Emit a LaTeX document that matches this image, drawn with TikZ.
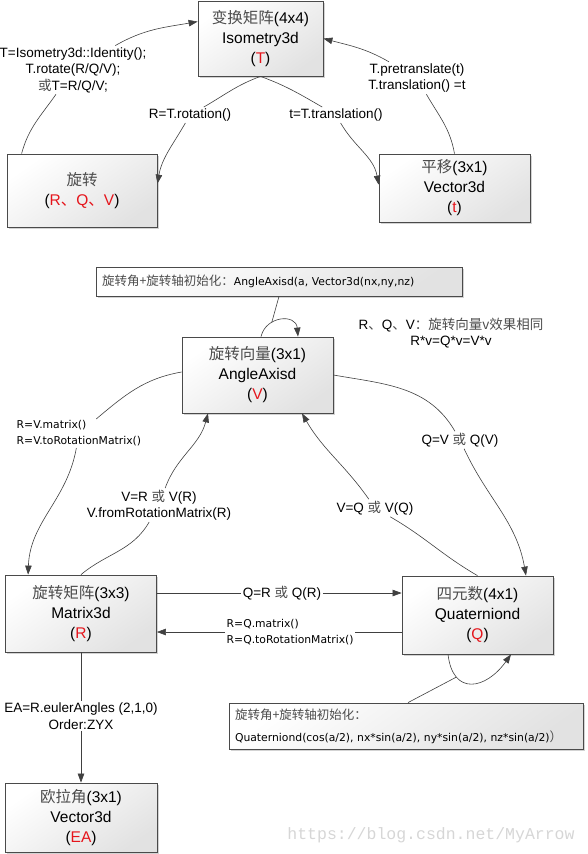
\documentclass[tikz,border=0pt]{standalone}
\usepackage{fontspec}
\usepackage{xcolor}
\usepackage{tikz}
\usetikzlibrary{arrows.meta,shadows}
\setmainfont{Liberation Sans}
\newfontfamily\cjk{Noto Sans CJK SC}
\newfontfamily\verd{DejaVu Sans}
\newfontfamily\wmark{Liberation Mono}
\definecolor{linegray}{HTML}{404040}
\definecolor{boxedge}{HTML}{4A4A4A}
\definecolor{boxlow}{HTML}{E2E2E2}
\definecolor{redtxt}{HTML}{E5141B}
\definecolor{cjkgray}{HTML}{4C4C4C}
\definecolor{wm}{HTML}{D6D6D6}
\newcommand{\zh}[1]{{\cjk\color{cjkgray}#1}}
\newcommand{\zhb}[1]{{\cjk\color{cjkgray}\fontsize{12.5}{22}\selectfont #1}}

\tikzset{
  mbox/.style={draw=boxedge,line width=.8pt,top color=white,bottom color=boxlow,shading angle=35,
    drop shadow={shadow xshift=1.5pt,shadow yshift=-1.5pt,opacity=.35},
    align=center,inner sep=0pt,font=\fontsize{15.5}{20}\selectfont},
  nbox/.style={mbox,align=left,inner xsep=6pt,inner ysep=0pt,font=\verd\fontsize{10.8}{22}\selectfont},
  lbl/.style={align=center,inner sep=1.5pt,font=\fontsize{13.5}{16.5}\selectfont},
  slbl/.style={align=left,inner sep=1.5pt,font=\verd\fontsize{10.8}{16}\selectfont},
  conn/.style={draw=linegray,line width=.6pt},
  arr/.style={conn,-{Triangle[length=9pt,width=6.5pt]}},
}

\begin{document}
\begin{tikzpicture}[x=1pt,y=1pt]
  \useasboundingbox (0,0) rectangle (587,-854);

  \node[mbox,minimum width=125pt,minimum height=75pt] (T) at (260.5,-38.5) {\zh{变换矩阵}(4x4)\\Isometry3d\\(\textcolor{redtxt}{T})};
  \node[mbox,minimum width=150pt,minimum height=73pt] (rot) at (82,-190.5) {\zh{旋转}\\(\textcolor{redtxt}{R{\cjk 、}Q{\cjk 、}V})};
  \node[mbox,minimum width=151pt,minimum height=68pt] (trans) at (454.5,-188) {\zh{平移}(3x1)\\Vector3d\\(\textcolor{redtxt}{t})};

  \node[nbox,text width=354pt,minimum height=29pt] (note1) at (279,-281.5) {\zhb{旋转角+旋转轴初始化：}AngleAxisd(a, Vector3d(nx,ny,nz)};
  \node[mbox,minimum width=151pt,minimum height=76pt] (V) at (257.5,-375) {\zh{旋转向量}(3x1)\\AngleAxisd\\(\textcolor{redtxt}{V})};
  \node[mbox,minimum width=151pt,minimum height=77pt] (R) at (81,-613.5) {\zh{旋转矩阵}(3x3)\\Matrix3d\\(\textcolor{redtxt}{R})};
  \node[mbox,minimum width=151pt,minimum height=78pt] (Q) at (477.5,-615) {\zh{四元数}(4x1)\\Quaterniond\\(\textcolor{redtxt}{Q})};
  \node[nbox,text width=342pt,minimum height=46pt] (note2) at (406,-726) {\zhb{旋转角+旋转轴初始化：}\\Quaterniond(cos(a/2), nx*sin(a/2), ny*sin(a/2), nz*sin(a/2)\zhb{）}};
  \node[mbox,minimum width=152pt,minimum height=69pt] (EA) at (81,-817.5) {\zh{欧拉角}(3x1)\\Vector3d\\(\textcolor{redtxt}{EA})};

  \node[lbl] (lt1) at (73,-70) {T=Isometry3d::Identity();\\T.rotate(R/Q/V);\\\zh{或}T=R/Q/V;};
  \node[lbl] (lt2) at (190,-115) {R=T.rotation()};
  \node[lbl] (lt3) at (336,-115) {t=T.translation()};
  \node[lbl] (lt4) at (417,-78) {T.pretranslate(t)\\T.translation() =t};
  \node[lbl] (vnote) at (451,-333) {R\zh{、}Q\zh{、}V\zh{：旋转向量v效果相同}\\R*v=Q*v=V*v};
  \node[slbl,anchor=west] (lv1) at (15,-433.5) {R=V.matrix()\\R=V.toRotationMatrix()};
  \node[lbl] (lv2) at (159,-505) {V=R \zh{或} V(R)\\V.fromRotationMatrix(R)};
  \node[lbl] (lv3) at (460,-440) {Q=V \zh{或} Q(V)};
  \node[lbl] (lv4) at (375,-508) {V=Q \zh{或} V(Q)};
  \node[lbl] (lr1) at (282,-593) {Q=R \zh{或} Q(R)};
  \node[slbl,anchor=west] (lq1) at (225,-632) {R=Q.matrix()\\R=Q.toRotationMatrix()};
  \node[lbl] (le1) at (81,-716) {EA=R.eulerAngles (2,1,0)\\Order:ZYX};
  \node[font=\wmark\fontsize{16.5}{18}\selectfont,text=wm] (wmk) at (431,-835) {https://blog.csdn.net/MyArrow};

  \draw[arr] ([xshift=15pt]rot.north west) to[out=75,in=-125] (lt1) to[out=30,in=190] ([yshift=-21pt]T.north west);
  \draw[arr] (T.south) to[out=200,in=30] (lt2) to[out=-120,in=80] ([yshift=-30pt]rot.north east);
  \draw[arr] (T.south) to[out=-20,in=150] (lt3) to[out=-60,in=100] ([yshift=-31pt]trans.north west);
  \draw[arr] (trans.north) to[out=100,in=-60] (lt4) to[out=150,in=-15] (T.east);

  \draw[arr] ([xshift=3.5pt]V.north) .. controls +(5,21) and +(-2,23) .. coordinate[pos=.32] (vloop) ([xshift=40.5pt]V.north);
  \draw[conn] (note1.south) -- (vloop);
  \draw[arr] ([yshift=3pt]V.west) to[out=190,in=40] (lv1) to[out=-100,in=88] ([xshift=23pt]R.north west);
  \draw[arr] (R.north) to[out=40,in=-120] (lv2) to[out=70,in=-105] ([xshift=-49.5pt]V.south);
  \draw[arr] (V.east) to[out=-10,in=120] (lv3) to[out=-65,in=100] ([xshift=48.5pt]Q.north);
  \draw[arr] (Q.north) to[out=150,in=-30] (lv4) to[out=125,in=-60] ([xshift=44.5pt]V.south);

  \draw[arr] ([yshift=20.5pt]R.east) -- (lr1) -- ([yshift=22pt]Q.west);
  \draw[arr] ([yshift=-17pt]Q.west) -- (lq1) -- ([yshift=-18.5pt]R.east);
  \draw[arr] ([xshift=-29.5pt]Q.south) .. controls +(5,-42) and +(-25,-35) .. coordinate[pos=.25] (qloop) ([xshift=33.5pt]Q.south);
  \draw[conn] ([xshift=2pt]note2.north) -- (qloop);
  \draw[arr] (R.south) -- (le1) -- (EA.north);
\end{tikzpicture}
\end{document}
